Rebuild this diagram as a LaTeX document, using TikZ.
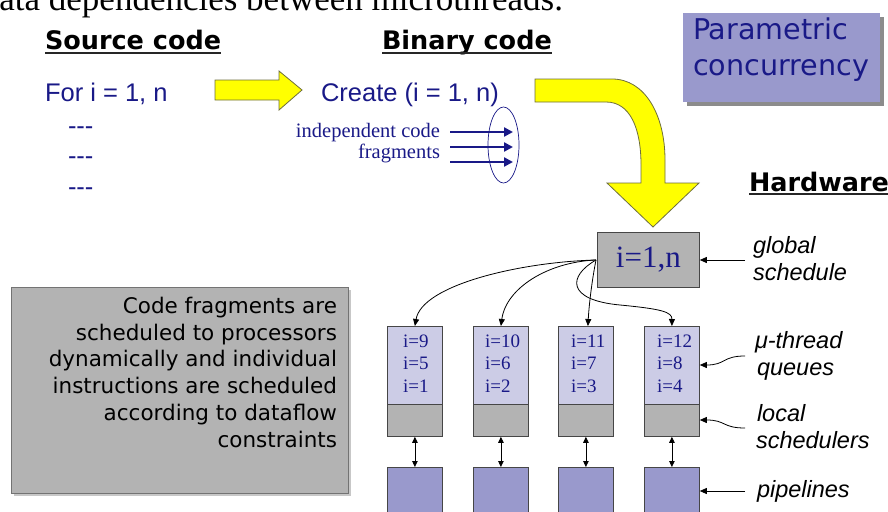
\documentclass[tikz,border=0pt]{standalone}
\usepackage{fontspec}
\usetikzlibrary{arrows.meta,shapes.geometric}
\newfontfamily\dejavu{DejaVu Sans}
\newfontfamily\arialf{Liberation Sans}
\newfontfamily\tnr{Liberation Serif}
\definecolor{navy}{RGB}{25,25,135}
\definecolor{lavdark}{RGB}{153,153,204}
\definecolor{lavlight}{RGB}{204,204,230}
\definecolor{greybox}{RGB}{179,179,179}
\definecolor{yel}{RGB}{255,255,0}
\definecolor{yelborder}{RGB}{110,110,60}
\definecolor{edgegrey}{RGB}{70,70,70}
\tikzset{
  txt/.style={inner sep=0pt, outer sep=0pt},
  hdr/.style={txt, font=\dejavu\bfseries\fontsize{25.5}{30}\selectfont, anchor=base west},
  ul/.style={line width=1.6pt, black!85},
  code/.style={txt, font=\arialf\fontsize{25.5}{30}\selectfont, text=navy},
  yarrow/.style={fill=yel, draw=yelborder, line width=0.8pt, line join=miter},
  farrow/.style={draw=navy, line width=2.6pt, -{Triangle[length=9pt,width=9pt]}},
  qbox/.style={draw=edgegrey, line width=0.8pt, fill=lavlight, minimum width=55pt, minimum height=78pt, inner sep=0pt, anchor=north west},
  sbox/.style={draw=edgegrey, line width=0.8pt, fill=greybox, minimum width=55pt, minimum height=32pt, inner sep=0pt, anchor=north west},
  pbox/.style={draw=edgegrey, line width=0.8pt, fill=lavdark, minimum width=55pt, minimum height=60pt, inner sep=0pt, anchor=north west},
  qtxt/.style={txt, font=\tnr\fontsize{19}{22}\selectfont, text=navy, anchor=base west},
  lbl/.style={txt, font=\arialf\itshape\fontsize{23.5}{27}\selectfont, anchor=base west},
  conn/.style={draw=black, line width=0.8pt, -{Triangle[length=7pt,width=6pt]}},
  dconn/.style={draw=black, line width=0.8pt, {Triangle[length=6pt,width=5.5pt]}-{Triangle[length=6pt,width=5.5pt]}},
}
\begin{document}
\begin{tikzpicture}[x=1pt,y=-1pt]
\useasboundingbox (0,0) rectangle (888,511);
\clip (0,0) rectangle (888,511);

% cut-off title line
\node[txt, font=\tnr\fontsize{35}{40}\selectfont, anchor=base east] (title) at (563,11) {data dependencies between microthreads.};

% headers
\node[hdr] (src) at (45,50) {Source code};
\draw[ul] ([yshift=-3pt]src.base west) -- ([yshift=-3pt]src.base east);
\node[hdr] (bin) at (382,50) {Binary code};
\draw[ul] ([yshift=-3pt]bin.base west) -- ([yshift=-3pt]bin.base east);
\node[hdr] (hw) at (749,191) {Hardware};
\draw[ul] ([yshift=-3pt]hw.base west) -- ([yshift=-3pt]hw.base east);

% source code
\node[code, anchor=base west] (for) at (45,101) {For i = 1, n};
\node[code, anchor=base west] (d1) at (68,134) {-{}-{}-};
\node[code, anchor=base west] (d2) at (68,164) {-{}-{}-};
\node[code, anchor=base west] (d3) at (68,195) {-{}-{}-};

% straight yellow arrow
\draw[yarrow] (215,80) -- (279,80) -- (279,71) -- (302,90) -- (279,110) -- (279,100) -- (215,100) -- cycle;

% binary code
\node[code, anchor=base west] (create) at (321,101) {Create (i = 1, n)};
\node[txt, font=\tnr\fontsize{20.5}{24}\selectfont, text=navy, anchor=base east] (ind1) at (440,137) {independent code};
\node[txt, font=\tnr\fontsize{20.5}{24}\selectfont, text=navy, anchor=base east] (ind2) at (440,158) {fragments};
\node[ellipse, draw=navy, line width=0.7pt, minimum width=31pt, minimum height=76pt, inner sep=0pt] (ell) at (503.5,145) {};
\coordinate (a1s) at (450,132); \coordinate (a1e) at (513,132);
\coordinate (a2s) at (450,147); \coordinate (a2e) at (513,147);
\coordinate (a3s) at (450,162); \coordinate (a3e) at (513,162);
\draw[farrow] (a1s) -- (a1e);
\draw[farrow] (a2s) -- (a2e);
\draw[farrow] (a3s) -- (a3e);

% curved yellow arrow
\draw[yarrow] (535,79) -- (612,79)
  .. controls (645,79) and (665,115) .. (665,160)
  -- (665,183) -- (699,183) -- (653,227) -- (607,183) -- (641,183) -- (641,165)
  .. controls (641,128) and (630,102) .. (606,102)
  -- (535,102) -- cycle;

% parametric concurrency box
\fill[black!45] (687,17) rectangle (884,106);
\node[fill=lavdark, minimum width=197pt, minimum height=89pt, inner sep=0pt, anchor=north west] (par) at (683,13) {};
\node[txt, font=\dejavu\fontsize{28.6}{35}\selectfont, text=navy, anchor=base west] (par1) at (693,40) {Parametric};
\node[txt, font=\dejavu\fontsize{28.6}{35}\selectfont, text=navy, anchor=base west] (par2) at (693,75) {concurrency};

% global schedule
\node[draw=edgegrey, line width=0.8pt, fill=greybox, minimum width=102pt, minimum height=55pt, inner sep=0pt, anchor=north west, font=\tnr\fontsize{31}{36}\selectfont, text=navy] (glob) at (597,232) {i=1,n};
\node[lbl] (gl1) at (753,253) {global};
\node[lbl] (gl2) at (753,280) {schedule};
\coordinate (gla) at (745,260);
\draw[conn] (gla) -- (glob.east |- gla);

% queues
\node[qbox] (q1) at (387,326) {};
\node[qbox] (q2) at (473,326) {};
\node[qbox] (q3) at (558,326) {};
\node[qbox] (q4) at (644,326) {};
\node[sbox] (s1) at (387,404) {};
\node[sbox] (s2) at (473,404) {};
\node[sbox] (s3) at (558,404) {};
\node[sbox] (s4) at (644,404) {};
\node[pbox] (p1) at (387,467) {};
\node[pbox] (p2) at (473,467) {};
\node[pbox] (p3) at (558,467) {};
\node[pbox] (p4) at (644,467) {};

\node[qtxt] (t11) at (403,347) {i=9};
\node[qtxt] (t12) at (403,369) {i=5};
\node[qtxt] (t13) at (403,392) {i=1};
\node[qtxt] (t21) at (485,347) {i=10};
\node[qtxt] (t22) at (485,369) {i=6};
\node[qtxt] (t23) at (485,392) {i=2};
\node[qtxt] (t31) at (571,347) {i=11};
\node[qtxt] (t32) at (571,369) {i=7};
\node[qtxt] (t33) at (571,392) {i=3};
\node[qtxt] (t41) at (657,347) {i=12};
\node[qtxt] (t42) at (657,369) {i=8};
\node[qtxt] (t43) at (657,392) {i=4};

% double arrows
\draw[dconn] (s1.south) -- (p1.north);
\draw[dconn] (s2.south) -- (p2.north);
\draw[dconn] (s3.south) -- (p3.north);
\draw[dconn] (s4.south) -- (p4.north);

% distribution arrows
\coordinate (gs) at (596,260);
\draw[conn] (gs) .. controls (520,262) and (422,285) .. (q1.north);
\draw[conn] (gs) .. controls (548,262) and (506,288) .. (q2.north);
\draw[conn] (gs) .. controls (592,280) and (589,305) .. ([xshift=2pt]q3.north);
\draw[conn] (gs) .. controls (568,276) and (566,300) .. (620,305) .. controls (662,309) and (672,312) .. (q4.north);

% labels on right
\node[lbl] (mu1) at (755,348) {μ-thread};
\node[lbl] (mu2) at (757,375) {queues};
\coordinate (mua) at (745,356);
\draw[conn] (mua) .. controls (722,356) and (726,365) .. (q4.east |- 0,365);

\node[lbl] (lo1) at (757,421) {local};
\node[lbl] (lo2) at (756,448) {schedulers};
\coordinate (loa) at (745,428);
\draw[conn] (loa) .. controls (722,428) and (726,420) .. (s4.east |- 0,420);

\node[lbl] (pi) at (757,497) {pipelines};
\coordinate (pia) at (745,491);
\draw[conn] (pia) -- (p4.east |- pia);

% explanation box
\fill[black!22] (14,290) rectangle (351,496);
\node[draw=black!55, line width=0.5pt, fill=greybox, minimum width=337pt, minimum height=206pt, inner sep=0pt, anchor=north west] (expl) at (11,287) {};
\node[txt, font=\dejavu\fontsize{21.5}{26.7}\selectfont, align=right, anchor=base east] (expltxt) at (337,447) {Code fragments are\\scheduled to processors\\dynamically and individual\\instructions are scheduled\\according to dataflow\\constraints};
\end{tikzpicture}
\end{document}
